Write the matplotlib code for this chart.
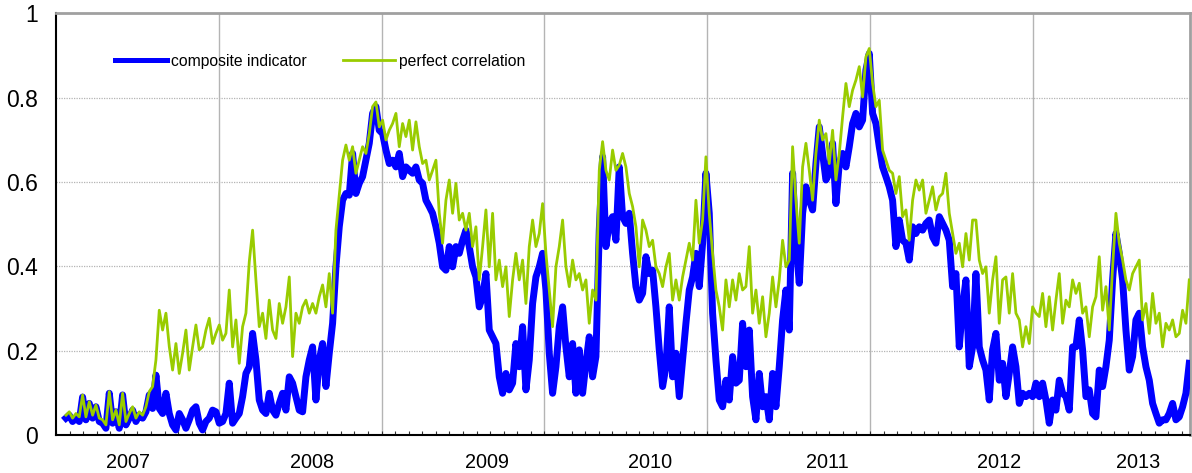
import matplotlib.pyplot as plt
from matplotlib.ticker import MultipleLocator
import numpy as np

plt.rcParams['font.family'] = ['Liberation Sans', 'DejaVu Sans']

start = 2007.061
step = 0.020475

composite = [
    0.04, 0.047, 0.032, 0.04, 0.032, 0.09, 0.036, 0.075, 0.04, 0.067, 0.032, 0.028, 0.016, 0.099, 0.028,
    0.055, 0.016, 0.095, 0.024, 0.04, 0.059, 0.032, 0.047, 0.04, 0.055, 0.095, 0.063, 0.142, 0.063, 0.051,
    0.099, 0.051, 0.024, 0.012, 0.051, 0.036, 0.016, 0.036, 0.059, 0.067, 0.028, 0.012, 0.032, 0.04, 0.059,
    0.055, 0.028, 0.032, 0.051, 0.123, 0.028, 0.04, 0.051, 0.091, 0.146, 0.162, 0.241,
    0.178, 0.083, 0.059, 0.051, 0.099, 0.059, 0.047, 0.075, 0.099, 0.059, 0.138, 0.123, 0.091, 0.059, 0.055,
    0.138, 0.178, 0.209, 0.083, 0.178, 0.217, 0.115, 0.194, 0.265, 0.399, 0.494, 0.557, 0.573, 0.569, 0.668,
    0.573, 0.597, 0.613, 0.652, 0.692, 0.763, 0.779, 0.723, 0.715, 0.676, 0.644, 0.652, 0.636, 0.668, 0.613,
    0.636, 0.628, 0.621, 0.636, 0.605, 0.597, 0.557, 0.542, 0.526, 0.494, 0.455, 0.399,
    0.391, 0.447, 0.399, 0.447, 0.431, 0.462, 0.486, 0.447, 0.399, 0.375, 0.304, 0.328, 0.383, 0.249, 0.233,
    0.217, 0.138, 0.099, 0.146, 0.107, 0.123, 0.217, 0.162, 0.257, 0.107, 0.178, 0.312, 0.375, 0.399, 0.431,
    0.344, 0.194, 0.099, 0.162, 0.257, 0.304, 0.209, 0.138, 0.217, 0.099, 0.202, 0.099, 0.17, 0.233, 0.138,
    0.186, 0.486, 0.66, 0.447, 0.502, 0.518, 0.462, 0.636, 0.518, 0.502, 0.526, 0.431,
    0.352, 0.32, 0.336, 0.423, 0.383, 0.391, 0.304, 0.202, 0.115, 0.162, 0.304, 0.138, 0.194, 0.091, 0.178,
    0.265, 0.344, 0.375, 0.431, 0.352, 0.455, 0.621, 0.526, 0.289, 0.178, 0.083, 0.067, 0.13, 0.083, 0.186,
    0.123, 0.13, 0.265, 0.162, 0.249, 0.091, 0.036, 0.146, 0.067, 0.091, 0.036, 0.146, 0.067, 0.162, 0.273,
    0.344, 0.249, 0.621, 0.455, 0.36, 0.526, 0.589, 0.557, 0.534, 0.644, 0.731, 0.668,
    0.605, 0.621, 0.692, 0.549, 0.644, 0.668, 0.636, 0.684, 0.739, 0.763, 0.731, 0.747, 0.866, 0.905, 0.763,
    0.739, 0.684, 0.636, 0.613, 0.589, 0.557, 0.447, 0.51, 0.462, 0.455, 0.415, 0.494, 0.478, 0.494, 0.486,
    0.502, 0.51, 0.47, 0.455, 0.518, 0.502, 0.486, 0.462, 0.352, 0.383, 0.209, 0.304, 0.368, 0.162, 0.209,
    0.383, 0.209, 0.178, 0.154, 0.083, 0.202, 0.241, 0.13, 0.17, 0.091, 0.146, 0.209,
    0.162, 0.075, 0.099, 0.091, 0.099, 0.091, 0.123, 0.091, 0.123, 0.083, 0.028, 0.083, 0.059, 0.13, 0.099,
    0.091, 0.059, 0.209, 0.209, 0.273, 0.202, 0.091, 0.107, 0.051, 0.043, 0.154, 0.115, 0.162, 0.225, 0.368,
    0.478, 0.431, 0.368, 0.249, 0.154, 0.186, 0.273, 0.289, 0.209, 0.162, 0.13, 0.075, 0.051, 0.028, 0.036,
    0.036, 0.051, 0.075, 0.036, 0.043, 0.067, 0.099, 0.17,
]

perfect = [
    0.047, 0.055, 0.04, 0.051, 0.043, 0.095, 0.043, 0.079, 0.047, 0.071, 0.04, 0.036, 0.024, 0.103, 0.036,
    0.059, 0.024, 0.099, 0.032, 0.051, 0.067, 0.04, 0.055, 0.047, 0.067, 0.103, 0.115, 0.178, 0.296, 0.249,
    0.289, 0.21, 0.154, 0.217, 0.146, 0.194, 0.249, 0.154, 0.209, 0.261, 0.202, 0.209, 0.249, 0.277, 0.217,
    0.241, 0.261, 0.225, 0.241, 0.344, 0.209, 0.273, 0.17, 0.257, 0.289, 0.411, 0.486,
    0.368, 0.257, 0.289, 0.229, 0.32, 0.249, 0.229, 0.312, 0.265, 0.304, 0.375, 0.186, 0.289, 0.265, 0.304,
    0.32, 0.289, 0.312, 0.289, 0.328, 0.356, 0.304, 0.383, 0.289, 0.486, 0.57, 0.652, 0.688, 0.652, 0.684,
    0.621, 0.652, 0.684, 0.668, 0.715, 0.779, 0.79, 0.731, 0.747, 0.70, 0.723, 0.739, 0.763, 0.684, 0.739,
    0.708, 0.747, 0.676, 0.743, 0.684, 0.644, 0.652, 0.605, 0.628, 0.652, 0.526, 0.455,
    0.557, 0.605, 0.526, 0.597, 0.51, 0.526, 0.486, 0.526, 0.447, 0.494, 0.368, 0.447, 0.534, 0.399, 0.526,
    0.368, 0.415, 0.352, 0.399, 0.281, 0.368, 0.431, 0.368, 0.415, 0.312, 0.447, 0.51, 0.447, 0.478, 0.549,
    0.431, 0.344, 0.257, 0.399, 0.447, 0.51, 0.399, 0.352, 0.415, 0.368, 0.383, 0.344, 0.368, 0.265, 0.344,
    0.32, 0.628, 0.696, 0.628, 0.605, 0.676, 0.628, 0.64, 0.668, 0.636, 0.573, 0.542,
    0.494, 0.399, 0.51, 0.486, 0.447, 0.462, 0.399, 0.383, 0.352, 0.399, 0.431, 0.32, 0.368, 0.32, 0.375,
    0.415, 0.455, 0.415, 0.557, 0.455, 0.51, 0.66, 0.526, 0.431, 0.344, 0.304, 0.249, 0.368, 0.304, 0.368,
    0.32, 0.383, 0.344, 0.352, 0.447, 0.289, 0.344, 0.265, 0.328, 0.233, 0.289, 0.375, 0.304, 0.368, 0.462,
    0.399, 0.415, 0.684, 0.557, 0.455, 0.636, 0.692, 0.628, 0.557, 0.668, 0.747, 0.70,
    0.715, 0.644, 0.723, 0.605, 0.668, 0.755, 0.834, 0.779, 0.818, 0.842, 0.874, 0.802, 0.897, 0.917, 0.834,
    0.779, 0.794, 0.676, 0.652, 0.628, 0.621, 0.573, 0.613, 0.518, 0.534, 0.462, 0.557, 0.605, 0.581, 0.605,
    0.526, 0.557, 0.589, 0.534, 0.565, 0.573, 0.621, 0.526, 0.478, 0.431, 0.455, 0.399, 0.478, 0.415, 0.51,
    0.51, 0.415, 0.383, 0.399, 0.289, 0.368, 0.423, 0.265, 0.368, 0.375, 0.289, 0.383,
    0.289, 0.273, 0.209, 0.257, 0.217, 0.304, 0.289, 0.281, 0.336, 0.257, 0.328, 0.249, 0.32, 0.383, 0.265,
    0.32, 0.304, 0.368, 0.336, 0.36, 0.289, 0.304, 0.233, 0.304, 0.328, 0.423, 0.296, 0.352, 0.249, 0.399,
    0.526, 0.455, 0.415, 0.368, 0.344, 0.383, 0.399, 0.415, 0.273, 0.312, 0.241, 0.336, 0.265, 0.289, 0.209,
    0.265, 0.249, 0.273, 0.233, 0.241, 0.296, 0.265, 0.368,
]

year_labels = ['2007', '2008', '2009', '2010', '2011', '2012', '2013']
year_label_pos = [2007.44, 2008.57, 2009.65, 2010.65, 2011.74, 2012.79, 2013.65]
y_ticks = [0, 0.2, 0.4, 0.6, 0.8, 1]
y_labels = ['0', '0.2', '0.4', '0.6', '0.8', '1']

x_comp = start + step * np.arange(len(composite))
x_perf = start + step * np.arange(len(perfect))

fig = plt.figure(figsize=(11.92, 4.73), dpi=100)
ax = fig.add_axes([56 / 1192, 38 / 473, 1134 / 1192, 421.5 / 473])

ax.plot(x_comp, composite, color='#0000ff', lw=5, solid_joinstyle='round', label='composite indicator', zorder=3)
ax.plot(x_perf, perfect, color='#99cc00', lw=2, label='perfect correlation', zorder=4)

ax.set_xlim(2007, 2007 + 1134 / 162.8)
ax.set_ylim(0, 1)

# year grid lines
for yr in range(2008, 2014):
    ax.axvline(yr, color='#b4b4b4', lw=1, zorder=1)
for yv in y_ticks[1:-1]:
    ax.axhline(yv, color='#b4b4b4', lw=0.9, ls=(0, (1, 1)), zorder=1)

ax.set_xticks(year_label_pos)
ax.set_xticklabels(year_labels, fontsize=14.3)
ax.xaxis.set_minor_locator(MultipleLocator(1 / 12))
ax.tick_params(axis='x', which='major', length=0, pad=13)
ax.tick_params(axis='x', which='minor', direction='in', length=3, width=0.8, color='#333333')

ax.set_yticks(y_ticks)
ax.set_yticklabels(y_labels, fontsize=16.5)
ax.tick_params(axis='y', length=0, pad=13)

for s in ['left', 'bottom']:
    ax.spines[s].set_color('black')
    ax.spines[s].set_linewidth(1.5)
for s in ['top', 'right']:
    ax.spines[s].set_color('#a0a0a0')
    ax.spines[s].set_linewidth(2)

leg = ax.legend(loc='center left', bbox_to_anchor=(0.052, 0.887), ncol=2, frameon=False,
                fontsize=11.3, handlelength=3.3, handletextpad=0.25, columnspacing=2.35,
                borderpad=0, borderaxespad=0)
leg.get_lines()[0].set_linewidth(3.6)

fig.savefig('out.png', dpi=100)
